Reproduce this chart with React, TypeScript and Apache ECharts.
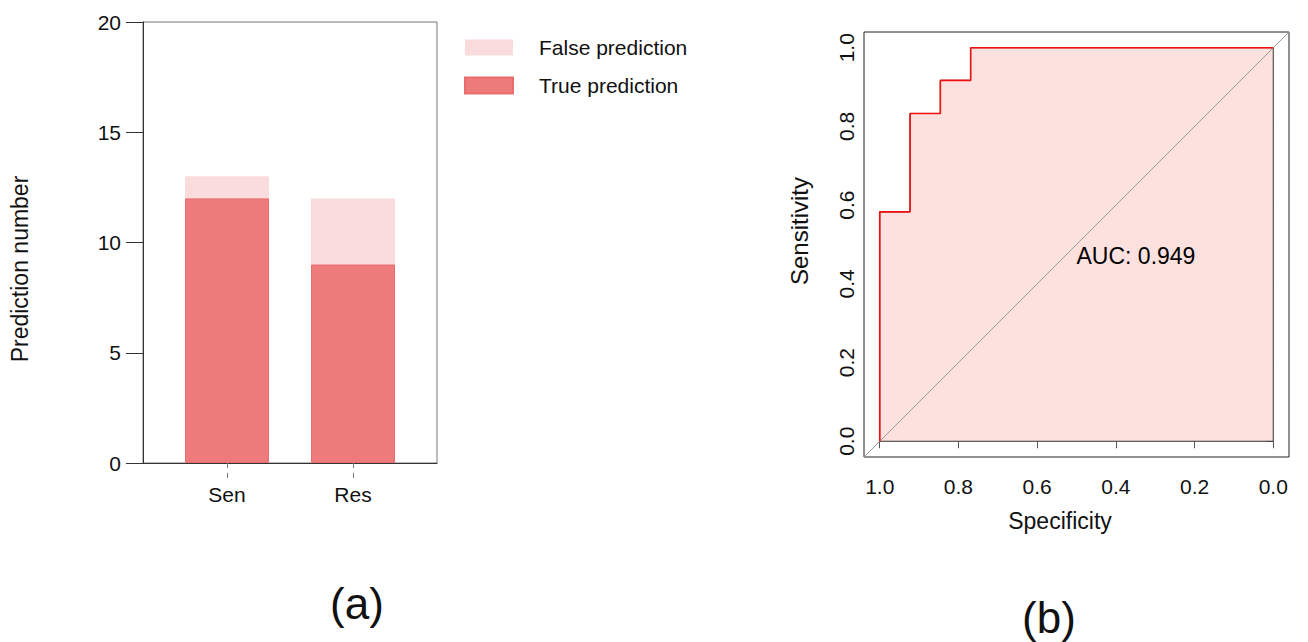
import React, { useEffect, useRef } from "react";
import * as echarts from "echarts";

const categories = ["Sen", "Res"];
const trueValues = [12, 9];
const falseValues = [1, 3];
const barYTicks = [0, 5, 10, 15, 20];

const rocSpecificity = [1, 1, 0.923, 0.923, 0.846, 0.846, 0.769, 0.769, 0];
const rocSensitivity = [0, 0.583, 0.583, 0.833, 0.833, 0.917, 0.917, 1, 1];
const rocTicks = [0, 0.2, 0.4, 0.6, 0.8, 1.0];
const aucValue = 0.949;

const FONT = "Liberation Sans, Arial, Helvetica, sans-serif";

export default function App() {
  const ref = useRef<HTMLDivElement>(null);
  useEffect(() => {
    document.body.style.margin = "0";
    const chart = echarts.init(ref.current!, null, { renderer: "svg" });

    const rocPoints = rocSpecificity.map((s, i) => [s, rocSensitivity[i]]);
    const polygon = [...rocPoints, [0, 0], [1, 0]];
    const barX = categories.map((_, i) => i + 1);

    const option: any = {
      animation: false,
      textStyle: { fontFamily: FONT },
      legend: {
        orient: "vertical",
        left: 464,
        top: 37,
        padding: 0,
        itemWidth: 48,
        itemHeight: 16,
        itemGap: 17,
        icon: "rect",
        selectedMode: false,
        data: ["False prediction", "True prediction"],
        textStyle: { fontSize: 21, color: "#111", fontFamily: FONT, padding: [0, 0, 3, 21] },
      },
      grid: [
        { left: 143, top: 22, width: 294, height: 441, show: true, borderColor: "#777", borderWidth: 1, backgroundColor: "transparent", containLabel: false },
        { left: 864, top: 32, width: 425, height: 425, show: true, borderColor: "#222", borderWidth: 1, backgroundColor: "transparent", containLabel: false },
      ],
      xAxis: [
        {
          gridIndex: 0,
          type: "value",
          min: 1 / 3,
          max: 8 / 3,
          splitLine: { show: false },
          axisLine: { show: true, lineStyle: { color: "#333", width: 1 } },
          axisTick: {
            show: true,
            customValues: barX,
            length: 16,
            lineStyle: { color: "#777", type: [5, 5], width: 1 },
          },
          axisLabel: {
            customValues: barX,
            formatter: (v: number) => categories[Math.round(v) - 1] ?? "",
            fontSize: 21,
            color: "#111",
            margin: 21,
            fontFamily: FONT,
          },
        },
        {
          gridIndex: 1,
          type: "value",
          inverse: true,
          min: -0.04,
          max: 1.04,
          splitLine: { show: false },
          axisLine: { show: false },
          axisTick: { show: true, customValues: rocTicks, length: 7, lineStyle: { color: "#555" } },
          axisLabel: {
            customValues: rocTicks,
            formatter: (v: number) => v.toFixed(1),
            fontSize: 21,
            color: "#111",
            margin: 19,
            fontFamily: FONT,
          },
        },
      ],
      yAxis: [
        {
          gridIndex: 0,
          type: "value",
          min: 0,
          max: 20,
          interval: 5,
          splitLine: { show: false },
          axisLine: { show: true, lineStyle: { color: "#333", width: 1 } },
          axisTick: { show: true, customValues: barYTicks, length: 17, lineStyle: { color: "#333" } },
          axisLabel: {
            customValues: barYTicks,
            fontSize: 21,
            color: "#111",
            margin: 22,
            fontFamily: FONT,
          },
        },
        {
          gridIndex: 1,
          type: "value",
          min: -0.04,
          max: 1.04,
          splitLine: { show: false },
          axisLine: { show: false },
          axisTick: { show: true, customValues: rocTicks, length: 7, lineStyle: { color: "#555" } },
          axisLabel: {
            customValues: rocTicks,
            formatter: (v: number) => v.toFixed(1),
            rotate: 90,
            fontSize: 21,
            color: "#111",
            margin: 7,
            fontFamily: FONT,
          },
        },
      ],
      series: [
        {
          name: "False prediction",
          type: "bar",
          xAxisIndex: 0,
          yAxisIndex: 0,
          barWidth: 84,
          barGap: "-100%",
          data: falseValues.map((v, i) => [barX[i], trueValues[i] + v]),
          itemStyle: { color: "#FADCDC" },
          z: 2,
        },
        {
          name: "True prediction",
          type: "bar",
          xAxisIndex: 0,
          yAxisIndex: 0,
          barWidth: 84,
          barGap: "-100%",
          data: trueValues.map((v, i) => [barX[i], v]),
          itemStyle: { color: "#EE7B7B", borderColor: "#EA6C6C", borderWidth: 1 },
          z: 3,
        },
        {
          type: "line",
          xAxisIndex: 1,
          yAxisIndex: 1,
          data: polygon,
          symbol: "none",
          silent: true,
          lineStyle: { color: "#333", width: 1 },
          areaStyle: { color: "#FCE1DE", opacity: 1, origin: 0 },
          z: 1,
        },
        {
          type: "line",
          xAxisIndex: 1,
          yAxisIndex: 1,
          data: [[1.04, -0.04], [-0.04, 1.04]],
          symbol: "none",
          silent: true,
          lineStyle: { color: "#999", width: 1 },
          z: 2,
        },
        {
          type: "line",
          xAxisIndex: 1,
          yAxisIndex: 1,
          data: rocPoints,
          symbol: "none",
          silent: true,
          lineStyle: { color: "#F01010", width: 1.6 },
          z: 3,
        },
        {
          type: "scatter",
          xAxisIndex: 1,
          yAxisIndex: 1,
          data: [[0.5, 0.5]],
          symbolSize: 0,
          itemStyle: { color: "transparent" },
          silent: true,
          label: {
            show: true,
            formatter: () => `AUC: ${aucValue.toFixed(3)}`,
            position: [0, 0],
            align: "left",
            verticalAlign: "top",
            fontSize: 23,
            color: "#000",
            opacity: 1,
            fontFamily: FONT,
          },
          z: 4,
        },
      ],
      graphic: [
        { type: "text", x: 20, y: 269, rotation: Math.PI / 2, style: { text: "Prediction number", fontSize: 23, fill: "#111", align: "center", verticalAlign: "middle", fontFamily: FONT } },
        { type: "text", x: 799, y: 231, rotation: Math.PI / 2, style: { text: "Sensitivity", fontSize: 24, fill: "#111", align: "center", verticalAlign: "middle", fontFamily: FONT } },
        { type: "text", x: 1060, y: 521, style: { text: "Specificity", fontSize: 23, fill: "#111", align: "center", verticalAlign: "middle", fontFamily: FONT } },
        { type: "text", x: 357, y: 603, style: { text: "(a)", fontSize: 44, fill: "#111", align: "center", verticalAlign: "middle", fontFamily: FONT } },
        { type: "text", x: 1049, y: 617, style: { text: "(b)", fontSize: 44, fill: "#111", align: "center", verticalAlign: "middle", fontFamily: FONT } },
      ],
    };
    chart.setOption(option);
    return () => chart.dispose();
  }, []);
  return <div ref={ref} style={{ position: "absolute", left: 0, top: 0, width: 1308, height: 642, background: "#fff" }} />;
}
